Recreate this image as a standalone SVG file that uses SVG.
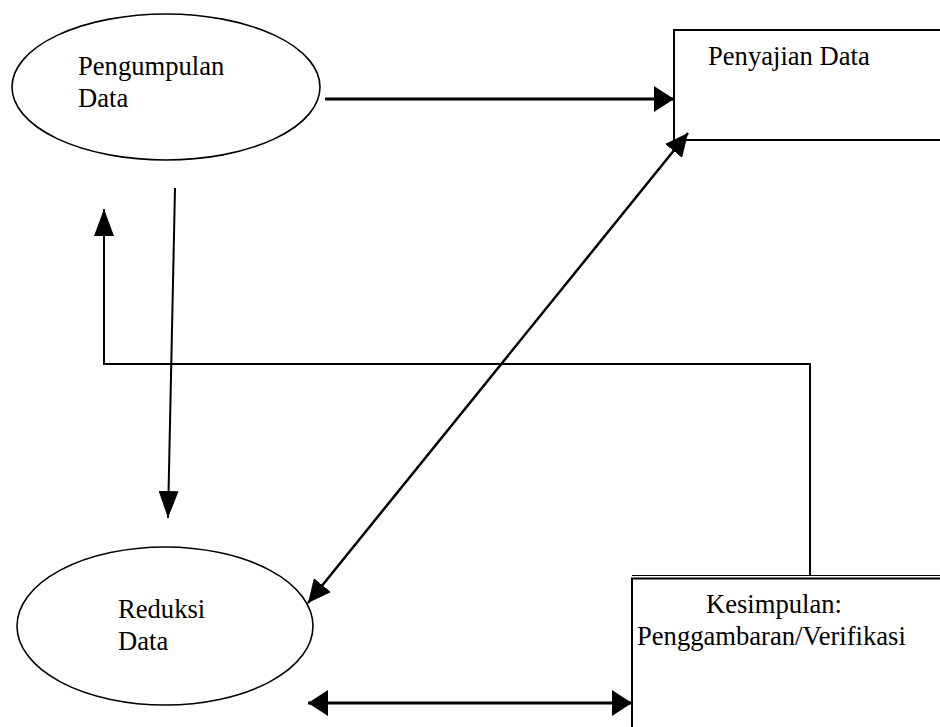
<svg xmlns="http://www.w3.org/2000/svg" width="940" height="727" viewBox="0 0 940 727">
<style>
.shape{fill:#fff;stroke:#000;stroke-width:1.6}
.box{fill:#fff;stroke:#000;stroke-width:2}
.lbl{font-family:"Liberation Serif","Times New Roman",serif;font-size:26.6px;fill:#000}
.ln{fill:none;stroke:#000}
</style>
<defs>
<marker id="ah" viewBox="0 0 20 26" markerWidth="20" markerHeight="26" refX="20" refY="13" orient="auto-start-reverse" markerUnits="userSpaceOnUse"><path d="M0,0 L20,13 L0,26 Z" fill="#000"/></marker>
<marker id="av" viewBox="0 0 27 20" markerWidth="27" markerHeight="20" refX="27" refY="10" orient="auto-start-reverse" markerUnits="userSpaceOnUse"><path d="M0,0 L27,10 L0,20 Z" fill="#000"/></marker>
<marker id="ad" viewBox="0 0 23 22" markerWidth="23" markerHeight="22" refX="23" refY="11" orient="auto-start-reverse" markerUnits="userSpaceOnUse"><path d="M0,0 L23,11 L0,22 Z" fill="#000"/></marker>
</defs>
<g id="pengumpulan">
<ellipse class="shape" cx="166" cy="87" rx="154" ry="73"/>
<text class="lbl" x="78" y="75">Pengumpulan</text>
<text class="lbl" x="78" y="107">Data</text>
</g>
<g id="penyajian">
<rect class="box" x="674" y="30" width="280" height="110"/>
<text class="lbl" x="708" y="65">Penyajian Data</text>
</g>
<g id="reduksi">
<ellipse class="shape" cx="165" cy="626" rx="148" ry="79"/>
<text class="lbl" x="118" y="618">Reduksi</text>
<text class="lbl" x="118" y="650">Data</text>
</g>
<g id="kesimpulan">
<line class="ln" x1="632" y1="575.5" x2="940" y2="575.5" stroke-width="1.2"/>
<rect class="box" x="632" y="578.5" width="320" height="160"/>
<text class="lbl" x="706" y="613">Kesimpulan:</text>
<text class="lbl" x="637" y="645">Penggambaran/Verifikasi</text>
</g>
<g id="connectors">
<line class="ln" x1="325" y1="99" x2="674" y2="99" stroke-width="3" marker-end="url(#ah)"/>
<line class="ln" x1="308" y1="603" x2="688" y2="133" stroke-width="2.5" marker-start="url(#ad)" marker-end="url(#ad)"/>
<line class="ln" x1="175" y1="188" x2="168" y2="518" stroke-width="2" marker-end="url(#av)"/>
<polyline class="ln" points="810,575 810,364 104,364 104,209" stroke-width="2" marker-end="url(#av)"/>
<line class="ln" x1="308" y1="703" x2="632" y2="703" stroke-width="3" marker-start="url(#ah)" marker-end="url(#ah)"/>
</g>
</svg>
